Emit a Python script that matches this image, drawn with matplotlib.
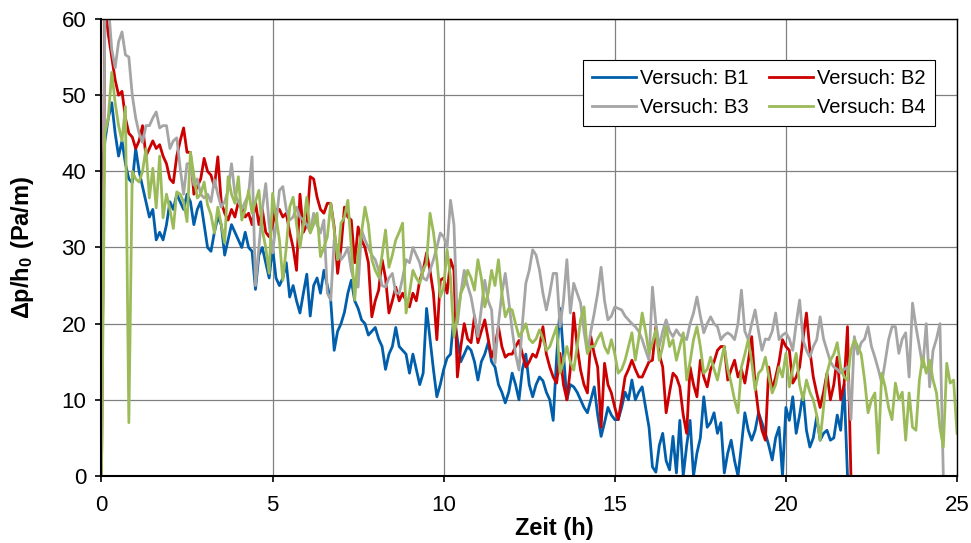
import numpy as np
import matplotlib
matplotlib.use('Agg')
import matplotlib.pyplot as plt

plt.rcParams['font.family'] = ['Liberation Sans', 'DejaVu Sans']
plt.rcParams['mathtext.fontset'] = 'custom'
plt.rcParams['mathtext.rm'] = 'Liberation Sans'
plt.rcParams['mathtext.bf'] = 'Liberation Sans:bold'

# Messwerte, Abtastung alle 0.1 h (eine Zeile = eine Stunde)
dt = 0.1
b1 = [39, 44, 47, 49, 45, 42, 44, 41, 39, 38.5,
      43, 40, 38, 36, 34, 35, 31, 32, 31, 33,
      36, 35, 37, 36, 35, 37, 36, 33, 35, 36,
      33, 30, 29.5, 32, 34, 33, 29, 31, 33, 32,
      31, 30, 32, 30, 29.5, 24.5, 29, 30, 28, 26,
      30, 26, 25, 26, 28, 23.5, 25, 23, 21.4, 24,
      26.5, 21, 25, 26, 24, 27, 25, 23, 16.5, 19,
      20, 21.5, 24, 25.7, 23, 22, 20.5, 20, 18.5, 19,
      19.5, 18, 17, 14, 16, 17, 19.5, 17, 16.5, 16,
      13.5, 16, 14, 12, 13.5, 22, 18, 14, 10.4, 12,
      14, 15.5, 16, 21, 18, 15, 16, 17, 16.5, 15,
      12.6, 15, 16, 17.5, 15, 14.3, 12, 11, 9.6, 11,
      13.5, 12, 10, 14, 16, 12, 10.4, 12, 13, 12.5,
      11, 10, 7.3, 15.6, 22, 16, 10, 12, 11.7, 11,
      10, 9, 8.3, 10, 11.7, 8, 5.2, 7, 9, 8,
      7.4, 7.4, 9, 11, 10, 12.6, 10, 11, 11.7, 9,
      6.4, 1.2, 0.5, 4, 5.6, 2, 0.8, 5.2, 0.4, 7.3,
      0, 4, 7.3, 0, 3, 5, 10.4, 6.4, 7, 8.3,
      5.6, 7, 0.4, 3, 4.7, 2, 0, 4, 8.3, 6,
      4.7, 6, 8.3, 7, 5.6, 4, 2.1, 5, 6.4, 0,
      9, 7.3, 10.4, 5.6, 8, 10.9, 6, 3.8, 5, 7.8,
      4.7, 5.6, 6, 4.7, 5, 8, 6, 12, 0]

b2 = [0, 62, 58, 55, 52, 50, 50.5, 47, 45, 44.5,
      43, 44, 46, 42, 43, 44, 43, 43.5, 42, 41,
      39, 38.5, 42, 44, 45.7, 42.5, 42.5, 37, 38, 39,
      41.7, 40, 39.5, 38, 41.9, 36, 34.5, 33.6, 35, 34,
      36, 35.3, 34, 34.5, 33, 36, 33, 35, 32, 31.4,
      33, 35, 35, 34, 34.5, 32, 30, 27, 37, 32,
      33, 39.3, 39, 36.6, 35, 34.5, 35.8, 35.8, 32.7, 26.6,
      30, 35.3, 34, 33.6, 28, 32.7, 31, 30, 28, 20.9,
      23, 24.4, 28.4, 26, 21.4, 23, 24.8, 23, 24, 23,
      22.2, 24, 23, 25.7, 27, 29.3, 27, 24, 17.9, 25.7,
      26, 24, 28.4, 27, 13, 17, 20, 18, 17.5, 21,
      17.5, 19, 20.5, 18, 15.6, 17, 19.6, 17, 15.6, 16,
      16, 17, 17.8, 16, 14.3, 15, 16, 15.6, 17, 19.6,
      16, 14.3, 13, 12.2, 16.1, 12, 10, 14, 21.4, 17,
      13.9, 12, 10.9, 18.3, 16, 14.3, 6.4, 14.8, 12, 10.9,
      9, 7.4, 10, 13, 14, 15.2, 14, 13, 13, 14,
      15, 15.2, 19.6, 16, 14.3, 8.3, 11, 13.5, 13, 11.7,
      8, 5.6, 14.3, 12, 10.4, 15.2, 13, 11.7, 14, 15,
      16.5, 17, 17, 12.6, 14, 15.2, 13, 14, 12.2, 15,
      18.3, 12, 8.3, 6, 4.7, 14.3, 11.3, 13, 15, 17.9,
      17, 16.5, 12.2, 13, 14.3, 18, 21.4, 16.5, 13, 10.9,
      9, 11, 13.5, 10, 12, 15.6, 10, 12, 19.6, 0]

b3 = [0, 60, 62, 56, 53.6, 57, 58.3, 55.3, 55, 50,
      47, 45, 43.8, 46, 46, 47, 47.8, 45.7, 46, 46,
      43, 44, 44.4, 40.4, 37, 41, 41, 38.2, 39, 37,
      36.5, 37, 36, 38.9, 37, 35.3, 36, 37.5, 41, 37,
      36, 35, 36, 37, 41.9, 25, 30, 35, 38.4, 33,
      29.3, 33, 37.5, 38, 35, 33.6, 34, 35.3, 34, 33.6,
      33, 32, 34.5, 33, 31.9, 33.6, 24, 23.1, 31, 30,
      28.4, 29, 30, 27, 25.3, 24.8, 32.3, 31, 30, 29,
      28.4, 27, 25, 24.8, 26, 26.6, 24, 24, 26, 28.4,
      28, 30, 29, 28, 26, 25.7, 27, 28.4, 30, 31.9,
      31.4, 30, 36.2, 33, 20, 24, 27, 25, 23.5, 21,
      18.3, 22, 25.7, 23, 21.8, 14.8, 20, 24, 26.6, 23,
      19.2, 16, 13.9, 20, 25.3, 27, 29.7, 29, 27, 24,
      21.8, 24, 26.6, 26.6, 19.6, 23, 28.4, 21.4, 25.3, 24,
      22.7, 19, 16.1, 19, 21.4, 24, 27.4, 23, 20.5, 21,
      22.2, 22, 21.8, 21, 20.5, 20, 19.6, 19, 17.9, 16.5,
      15.2, 24.8, 20, 17, 19, 20.5, 19, 18.3, 19.2, 18.5,
      18.3, 17.9, 20, 21.4, 23.5, 21, 18.8, 20, 20.9, 20,
      19.6, 17.9, 18.5, 18.8, 18.5, 17.9, 20, 24.4, 19, 17.9,
      20, 21.8, 19, 16.5, 18, 17.9, 19, 21.4, 17.9, 18.5,
      18.8, 18, 16.5, 20, 23.1, 17.9, 16.5, 15.6, 17, 17.9,
      20.9, 18, 16.5, 15, 14.3, 14, 13.5, 14, 14.3, 7.4,
      18.3, 16, 17.5, 18, 19.6, 17, 15.6, 14, 12.2, 15,
      17.9, 19.6, 19.6, 16.1, 18, 18.8, 13, 22.7, 19.6, 17,
      14.3, 20, 11.7, 16.5, 18, 20, 0]

b4 = [0, 45, 47, 53, 49, 46, 44, 48.5, 7, 40,
      39, 38.6, 40, 43, 36.5, 40.4, 35.2, 42, 33.9, 37,
      35, 32.5, 37.3, 37, 36, 33.4, 42.5, 39.5, 36.5, 37,
      38.6, 35.6, 34.3, 31.9, 35.3, 33, 30.6, 39.3, 37, 35.8,
      39.3, 33.6, 35, 37.5, 34.5, 36, 37.5, 32.3, 30, 26.6,
      37.1, 34, 31, 25.7, 30, 35.3, 36.6, 33, 30, 33,
      36.6, 31.9, 33, 34.5, 28.8, 30, 31.4, 35.8, 32.3, 28.4,
      33.2, 34, 36.2, 30, 23.1, 29.3, 32, 35.3, 33, 28.4,
      27, 26.1, 29, 32.3, 27.4, 29, 31, 32, 33.2, 21.4,
      24, 27, 26, 25.3, 27, 28, 34.5, 32, 28.4, 23.5,
      24.8, 29.7, 26, 18.3, 21, 24, 25, 27, 26, 24.4,
      28.4, 26, 22.2, 24, 27, 25, 28.4, 24, 20.9, 22,
      21.8, 20, 18.3, 19, 20, 18, 17.5, 18, 19.2, 18,
      16.5, 17, 18.3, 19.6, 13.5, 15, 17, 15, 13.9, 17,
      20.5, 22.2, 16.1, 17, 17, 18, 18.8, 17, 16.1, 17.9,
      16, 13.5, 14, 15.2, 17, 18.8, 15.2, 18, 21.4, 19,
      16.1, 17.5, 19.2, 15.2, 17, 19.6, 17, 17.9, 15.2, 17,
      18.8, 12.6, 15, 17.9, 19.6, 17, 13.5, 14, 15.6, 14,
      12.6, 15, 17, 14, 12.2, 10, 8.3, 14.3, 16, 17.9,
      15, 11.3, 13.5, 14, 15.6, 13, 10.9, 12, 14.3, 13,
      16.1, 11.7, 14, 16.1, 12, 10, 12.6, 11, 10, 8,
      4.7, 9, 13.5, 15.2, 16, 17.5, 14.3, 13, 12.6, 16.5,
      17.9, 17, 16, 12.6, 8.3, 10, 10.9, 3, 13.5, 11.7,
      9, 7.4, 12.2, 10, 11, 4.7, 10.9, 6.4, 6, 12.6,
      15.6, 13.5, 15.2, 12.6, 10.9, 6.4, 3.8, 14.8, 12.2, 12.6,
      5.6]

labels = ['Versuch: B1', 'Versuch: B2', 'Versuch: B3', 'Versuch: B4']
colors = ['#005EAA', '#CC0000', '#A5A5A5', '#9BBB59']

fig = plt.figure(figsize=(9.71, 5.43), dpi=100)
ax = fig.add_axes([0.1045, 0.1234, 0.8811, 0.8416])

lines = []
for y, lab, c in zip([b1, b2, b3, b4], labels, colors):
    t = np.arange(len(y)) * dt
    ln, = ax.plot(t, y, color=c, lw=2.0, label=lab)
    lines.append(ln)

ax.set_xlim(0, 25)
ax.set_ylim(0, 60)
ax.set_xticks(np.arange(0, 26, 5))
ax.set_yticks(np.arange(0, 61, 10))
ax.grid(True, color='#808080', lw=0.9)
ax.set_axisbelow(True)
for s in ax.spines.values():
    s.set_color('black')
    s.set_linewidth(1.0)
ax.spines['bottom'].set_linewidth(1.5)
ax.spines['left'].set_linewidth(1.5)
ax.tick_params(direction='out', length=4, width=1.2, labelsize=16)
ax.tick_params(axis='x', pad=10)
ax.tick_params(axis='y', pad=7)

ax.set_xlabel('Zeit (h)', fontsize=17, fontweight='bold')
ax.xaxis.set_label_coords((554 - 101.5) / 855.5, -0.09)
ax.set_ylabel(r'$\mathbf{\Delta p/h_0\ (Pa/m)}$', fontsize=17)
ax.yaxis.set_label_coords(-0.076, 0.5)

# Legende: Zeile 1 B1, B2 / Zeile 2 B3, B4
order = [0, 2, 1, 3]
leg = ax.legend([lines[i] for i in order], [labels[i] for i in order],
                ncol=2, loc='upper left', bbox_to_anchor=(583 / 971, 1 - 60 / 543),
                bbox_transform=fig.transFigure, fontsize=14.5, frameon=True,
                fancybox=False, framealpha=1, edgecolor='black',
                handlelength=2.2, handletextpad=0.2, columnspacing=1.0,
                labelspacing=0.5, borderpad=0.45, borderaxespad=0)
leg.get_frame().set_linewidth(0.8)

fig.savefig('out.png', dpi=100)
